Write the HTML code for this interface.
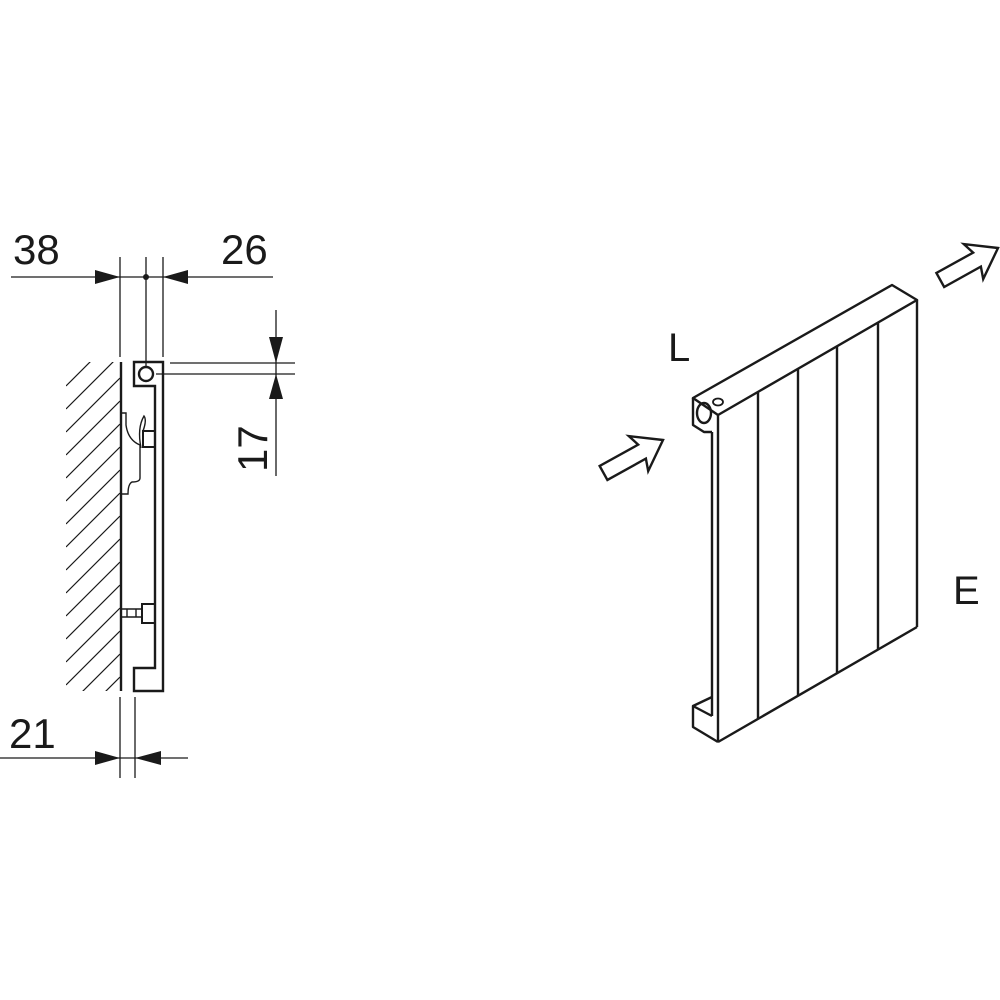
<!DOCTYPE html>
<html><head><meta charset="utf-8"><style>
html,body{margin:0;padding:0;background:#fff;}
svg{display:block;}
text{font-family:"Liberation Sans Narrow","Liberation Sans",sans-serif;fill:#1a1a1a;}
</style></head><body>
<svg width="1000" height="1000" viewBox="0 0 1000 1000" xmlns="http://www.w3.org/2000/svg">
<defs>
<clipPath id="hc"><rect x="66" y="362" width="54" height="329"/></clipPath>
</defs>
<g stroke="#1a1a1a" fill="none" stroke-width="1.3">
<line x1="11" y1="277" x2="273" y2="277"/>
<line x1="120" y1="257" x2="120" y2="357"/>
<line x1="146" y1="257" x2="146" y2="366"/>
<line x1="163" y1="257" x2="163" y2="357"/>
<line x1="170" y1="363" x2="295" y2="363"/>
<line x1="156" y1="374" x2="295" y2="374"/>
<line x1="276" y1="310" x2="276" y2="476"/>
<line x1="0" y1="758" x2="188" y2="758"/>
<line x1="120" y1="697" x2="120" y2="778"/>
<line x1="135" y1="697" x2="135" y2="778"/>
<g clip-path="url(#hc)" stroke-width="1.2">
<path d="M66,386 L120,332 M66,409 L120,355 M66,432 L120,378 M66,455 L120,401 M66,478 L120,424 M66,501 L120,447 M66,524 L120,470 M66,547 L120,493 M66,570 L120,516 M66,593 L120,539 M66,616 L120,562 M66,639 L120,585 M66,662 L120,608 M66,685 L120,631 M66,708 L120,654 M66,731 L120,677 M66,754 L120,700"/>
</g>
</g>
<g stroke="#1a1a1a" fill="none" stroke-width="2.4">
<line x1="121" y1="362" x2="121" y2="691"/>
<path d="M134,362 H163 V691 H134 V668 H155 V386 H134 Z"/>
<circle cx="146" cy="374" r="7"/>
<path stroke-width="1.4" d="M121,413 H126 V425 Q128,440 140,445 V478 Q140,482 132,482 Q128,484 128,494 H121"/>
<path stroke-width="1.4" d="M141,448 Q137,428 144,416 Q147,420 143,431"/>
<rect x="143" y="431" width="12" height="16" stroke-width="2"/>
<rect x="142" y="604" width="13" height="19" stroke-width="2"/>
<path stroke-width="1.4" d="M122,609 H141 M122,617 H141 M127,609 V617 M136,609 V617"/>
</g>
<g fill="#1a1a1a">
<polygon points="120,277 95,270 95,284"/>
<polygon points="163,277 188,270 188,284"/>
<circle cx="146" cy="277" r="3"/>
<polygon points="276,363 269,337 283,337"/>
<polygon points="276,374 269,399 283,399"/>
<polygon points="120,758 95,751 95,765"/>
<polygon points="135,758 161,751 161,765"/>
</g>
<text x="13" y="264" font-size="42">38</text>
<text x="221" y="264" font-size="42">26</text>
<text x="9" y="748" font-size="42">21</text>
<text transform="translate(267,472) rotate(-90)" font-size="42">17</text>

<g stroke="#1a1a1a" fill="none" stroke-width="2.4" stroke-linejoin="round">
<path d="M693,398 L892,285 L917,300 L718,415 Z"/>
<line x1="917" y1="300" x2="917" y2="627"/>
<line x1="718" y1="415" x2="718" y2="742"/>
<line x1="718" y1="742" x2="917" y2="627"/>
<line x1="758" y1="392" x2="758" y2="719"/>
<line x1="798" y1="369" x2="798" y2="696"/>
<line x1="837" y1="346" x2="837" y2="673"/>
<line x1="878" y1="323" x2="878" y2="650"/>
<line x1="712" y1="432" x2="712" y2="716"/>
<path d="M712,697 L693,706 V727 L718,742"/>
<path d="M693,706 L712,716"/>
<path d="M693,398 V425 L704,432 H712"/>
<ellipse cx="704" cy="413" rx="7" ry="10"/>
<ellipse cx="718" cy="402" rx="5" ry="3.5" stroke-width="1.8"/>
</g>
<g stroke="#1a1a1a" fill="#fff" stroke-width="2.4" stroke-linejoin="miter">
<polygon transform="translate(663,440) rotate(-29)" points="0,0 -28,-20 -24,-8 -68,-8 -68,8 -24,8 -28,20"/>
<polygon transform="translate(998,248) rotate(-29)" points="0,0 -28,-20 -24,-8 -66,-8 -66,8 -24,8 -28,20"/>
</g>
<text x="668" y="361" font-size="40">L</text>
<text x="953" y="604" font-size="40">E</text>
</svg>
</body></html>
